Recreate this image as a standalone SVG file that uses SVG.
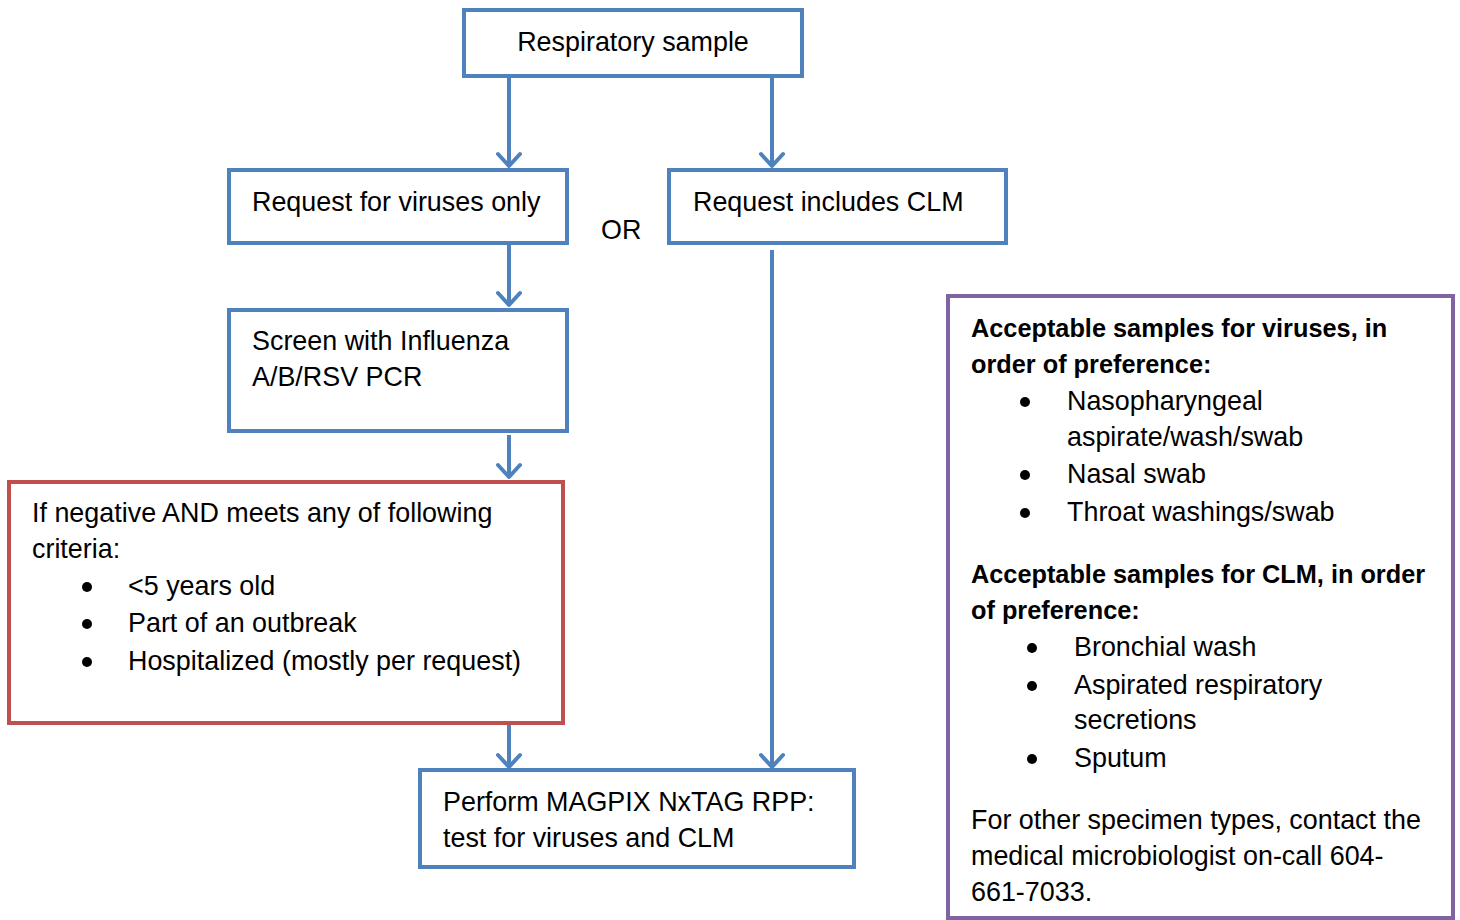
<svg xmlns="http://www.w3.org/2000/svg" width="1460" height="920" viewBox="0 0 1460 920">
<style>
text{font-family:"Liberation Sans",Arial,sans-serif;font-size:26.9px;fill:#000}
.b{font-weight:bold;font-size:25.3px}
.box{fill:#fff;stroke:#4F81BD;stroke-width:4}
.red{fill:#fff;stroke:#C0504D;stroke-width:4}
.pur{fill:#fff;stroke:#8064A2;stroke-width:4}
.con{fill:none;stroke:#4F81BD;stroke-width:4}
.dot{fill:#000}
</style>
<defs>
<marker id="arr" markerUnits="userSpaceOnUse" markerWidth="30" markerHeight="30" refX="15" refY="15" orient="auto" viewBox="0 0 30 15" overflow="visible">
<path d="M3,4 L15,15 L3,26" fill="none" stroke="#4F81BD" stroke-width="4" stroke-linecap="round" stroke-linejoin="round"/>
</marker>
</defs>
<g id="connectors">
<line class="con" x1="509" y1="76" x2="509" y2="166" marker-end="url(#arr)"/>
<line class="con" x1="772" y1="76" x2="772" y2="166" marker-end="url(#arr)"/>
<line class="con" x1="509" y1="243" x2="509" y2="305" marker-end="url(#arr)"/>
<line class="con" x1="509" y1="435" x2="509" y2="477" marker-end="url(#arr)"/>
<line class="con" x1="509" y1="723" x2="509" y2="767" marker-end="url(#arr)"/>
<line class="con" x1="772" y1="250" x2="772" y2="767" marker-end="url(#arr)"/>
</g>
<g id="n-respiratory">
<rect class="box" x="464" y="10" width="338" height="66"/>
<text x="633" y="51" text-anchor="middle">Respiratory sample</text>
</g>
<g id="n-viruses-only">
<rect class="box" x="229" y="170" width="338" height="73"/>
<text x="252" y="211">Request for viruses only</text>
</g>
<g id="n-or">
<text x="601" y="239">OR</text>
</g>
<g id="n-clm">
<rect class="box" x="669" y="170" width="337" height="73"/>
<text x="693" y="211">Request includes CLM</text>
</g>
<g id="n-screen">
<rect class="box" x="229" y="310" width="338" height="121"/>
<text x="252" y="350">Screen with Influenza</text>
<text x="252" y="386">A/B/RSV PCR</text>
</g>
<g id="n-criteria">
<rect class="red" x="9" y="482" width="554" height="241"/>
<text x="32" y="522">If negative AND meets any of following</text>
<text x="32" y="558">criteria:</text>
<circle class="dot" cx="87" cy="587" r="5"/>
<text x="128" y="595">&lt;5 years old</text>
<circle class="dot" cx="87" cy="624" r="5"/>
<text x="128" y="632">Part of an outbreak</text>
<circle class="dot" cx="87" cy="662" r="5"/>
<text x="128" y="670">Hospitalized (mostly per request)</text>
</g>
<g id="n-magpix">
<rect class="box" x="420" y="770" width="434" height="97"/>
<text x="443" y="811">Perform MAGPIX NxTAG RPP:</text>
<text x="443" y="847">test for viruses and CLM</text>
</g>
<g id="n-acceptable">
<rect class="pur" x="948" y="296" width="505" height="622"/>
<text class="b" x="971" y="337">Acceptable samples for viruses, in</text>
<text class="b" x="971" y="373">order of preference:</text>
<circle class="dot" cx="1025" cy="402" r="5"/>
<text x="1067" y="410">Nasopharyngeal</text>
<text x="1067" y="446">aspirate/wash/swab</text>
<circle class="dot" cx="1025" cy="475" r="5"/>
<text x="1067" y="483">Nasal swab</text>
<circle class="dot" cx="1025" cy="513" r="5"/>
<text x="1067" y="521">Throat washings/swab</text>
<text class="b" x="971" y="583">Acceptable samples for CLM, in order</text>
<text class="b" x="971" y="619">of preference:</text>
<circle class="dot" cx="1032" cy="648" r="5"/>
<text x="1074" y="656">Bronchial wash</text>
<circle class="dot" cx="1032" cy="686" r="5"/>
<text x="1074" y="694">Aspirated respiratory</text>
<text x="1074" y="729">secretions</text>
<circle class="dot" cx="1032" cy="759" r="5"/>
<text x="1074" y="767">Sputum</text>
<text x="971" y="829">For other specimen types, contact the</text>
<text x="971" y="865">medical microbiologist on-call 604-</text>
<text x="971" y="901">661-7033.</text>
</g>
</svg>
